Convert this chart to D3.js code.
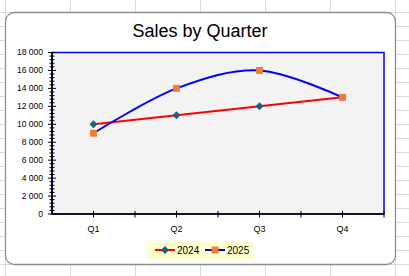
<!DOCTYPE html>
<html>
<head>
<meta charset="utf-8">
<script src="https://cdn.jsdelivr.net/npm/d3@7"></script>
<style>
  body { margin: 0; background: #fff; }
  svg { display: block; font-family: 'Liberation Sans', Arial, sans-serif; }
</style>
</head>
<body>
<div id="chart"></div>
<script>
const quarters = ['Q1', 'Q2', 'Q3', 'Q4'];
const sales2024 = [10000, 11000, 12000, 13000];
const sales2025 = [9000, 14000, 16000, 13000];
const seriesNames = ['2024', '2025'];
const yTicks = [0, 2000, 4000, 6000, 8000, 10000, 12000, 14000, 16000, 18000];

const W = 409, H = 276;
const plot = { left: 52, right: 384, top: 52.5, bottom: 214 };

const svg = d3.select('#chart').append('svg')
  .attr('width', W)
  .attr('height', H);

// spreadsheet grid behind the chart
const grid = svg.append('g').attr('stroke', '#d9d9d9').attr('stroke-width', 1);
d3.range(5.5, W, 65).forEach(function(x) {
  grid.append('line').attr('x1', x).attr('x2', x).attr('y1', 0).attr('y2', H);
});
d3.range(-1.5, H, 14).forEach(function(y) {
  grid.append('line').attr('x1', 0).attr('x2', W).attr('y1', y).attr('y2', y);
});

// chart frame
svg.append('rect')
  .attr('x', 5.5).attr('y', 12.5)
  .attr('width', 390).attr('height', 252)
  .attr('rx', 9).attr('ry', 9)
  .attr('fill', '#fff')
  .attr('stroke', '#8c8c8c')
  .attr('stroke-width', 1.3);

svg.append('text')
  .attr('x', 200)
  .attr('y', 37)
  .attr('text-anchor', 'middle')
  .attr('font-size', 18)
  .attr('fill', '#000')
  .text('Sales by Quarter');

const x = d3.scaleBand().domain(quarters).range([plot.left, plot.right]);
const y = d3.scaleLinear().domain([0, 18000]).range([plot.bottom, plot.top]);
const cx = function(q) { return x(q) + x.bandwidth() / 2; };

// plot area
svg.append('rect')
  .attr('x', plot.left).attr('y', plot.top)
  .attr('width', plot.right - plot.left)
  .attr('height', plot.bottom - plot.top)
  .attr('fill', '#f3f3f3')
  .attr('stroke', '#0000ff')
  .attr('stroke-width', 1.5);

// y axis
const yAxis = svg.append('g').attr('transform', 'translate(' + plot.left + ',0)');
yAxis.append('line')
  .attr('x1', 0).attr('x2', 0)
  .attr('y1', y(18000)).attr('y2', y(0))
  .attr('stroke', '#000').attr('stroke-width', 1.5);
d3.range(0, 18001, 400).forEach(function(v) {
  const major = v % 2000 === 0;
  yAxis.append('line')
    .attr('x1', major ? -4 : -2.5).attr('x2', major ? 4 : 2.5)
    .attr('y1', y(v)).attr('y2', y(v))
    .attr('stroke', '#000').attr('stroke-width', 1);
});
const fmt = function(v) { return d3.format(',')(v).replace(/,/g, '\u00a0'); };
yAxis.selectAll('text.ylab').data(yTicks).join('text')
  .attr('class', 'ylab')
  .attr('x', -9)
  .attr('y', function(d) { return y(d); })
  .attr('dy', '0.35em')
  .attr('text-anchor', 'end')
  .attr('font-size', 8.5)
  .attr('fill', '#000')
  .text(fmt);

// x axis
const xAxis = svg.append('g').attr('transform', 'translate(0,' + plot.bottom + ')');
xAxis.append('line')
  .attr('x1', plot.left).attr('x2', plot.right)
  .attr('stroke', '#000').attr('stroke-width', 1.5);
const xTickPos = quarters.map(cx).concat(quarters.map(function(q) { return x(q) + x.bandwidth(); }));
xTickPos.forEach(function(p) {
  xAxis.append('line')
    .attr('x1', p).attr('x2', p)
    .attr('y1', -3).attr('y2', 3.5)
    .attr('stroke', '#000').attr('stroke-width', 1);
});
xAxis.selectAll('text').data(quarters).join('text')
  .attr('x', cx)
  .attr('y', 18)
  .attr('text-anchor', 'middle')
  .attr('font-size', 9)
  .attr('fill', '#000')
  .text(function(d) { return d; });

// lines
const line2024 = d3.line()
  .x(function(d, i) { return cx(quarters[i]); })
  .y(function(d) { return y(d); });
const line2025 = d3.line()
  .x(function(d, i) { return cx(quarters[i]); })
  .y(function(d) { return y(d); })
  .curve(d3.curveCardinal.tension(0));

svg.append('path')
  .attr('d', line2024(sales2024))
  .attr('fill', 'none').attr('stroke', '#ff0000').attr('stroke-width', 2);
svg.append('path')
  .attr('d', line2025(sales2025))
  .attr('fill', 'none').attr('stroke', '#0000ff').attr('stroke-width', 2);

const diamond = d3.symbol().type(d3.symbolDiamond2).size(40);
const square = d3.symbol().type(d3.symbolSquare).size(48);

svg.selectAll('path.m2024').data(sales2024).join('path')
  .attr('class', 'm2024')
  .attr('transform', function(d, i) { return 'translate(' + cx(quarters[i]) + ',' + y(d) + ')'; })
  .attr('d', diamond)
  .attr('fill', '#1f5f7e');
svg.selectAll('path.m2025').data(sales2025).join('path')
  .attr('class', 'm2025')
  .attr('transform', function(d, i) { return 'translate(' + cx(quarters[i]) + ',' + y(d) + ')'; })
  .attr('d', square)
  .attr('fill', '#ed7d31');

// legend
const legend = svg.append('g').attr('transform', 'translate(147,241)');
legend.append('rect')
  .attr('width', 106).attr('height', 18)
  .attr('fill', '#ffffcc');
const legendItems = [
  { name: seriesNames[0], color: '#ff0000', marker: diamond, mfill: '#1f5f7e' },
  { name: seriesNames[1], color: '#0000ff', marker: square, mfill: '#ed7d31' }
];
legendItems.forEach(function(it, i) {
  const g = legend.append('g').attr('transform', 'translate(' + (8 + i * 50) + ',9)');
  g.append('line').attr('x1', 0).attr('x2', 20)
    .attr('stroke', it.color).attr('stroke-width', 2);
  g.append('path').attr('transform', 'translate(10,0)')
    .attr('d', it.marker).attr('fill', it.mfill);
  g.append('text')
    .attr('x', 22).attr('dy', '0.35em')
    .attr('font-size', 10).attr('fill', '#000')
    .text(it.name);
});
</script>
</body>
</html>
